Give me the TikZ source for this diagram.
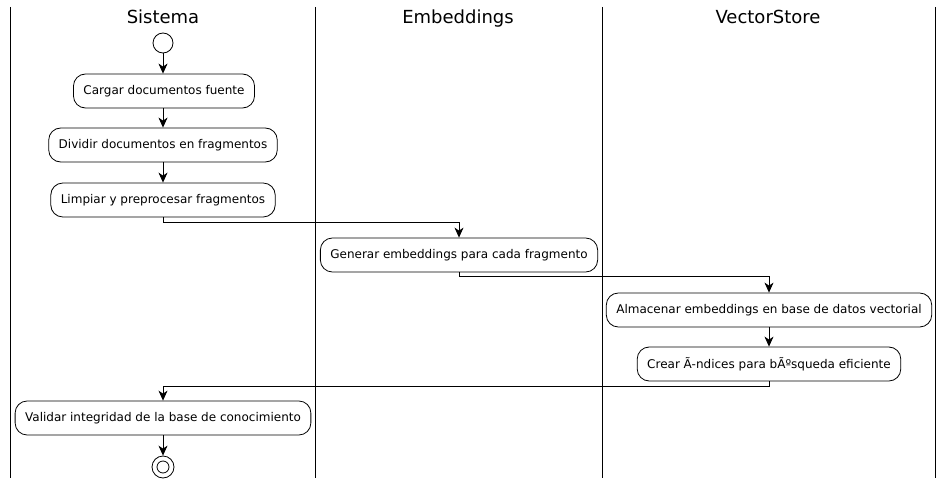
\documentclass[tikz,border=0pt]{standalone}
\usepackage{fontspec}
\setmainfont{DejaVu Sans}
\usetikzlibrary{arrows.meta}

\begin{document}
\begin{tikzpicture}[x=1pt, y=-1pt,
    act/.style={draw, thick, rounded corners=12pt, minimum height=34pt,
                inner xsep=10pt, font=\fontsize{12}{14}\selectfont},
    lanetitle/.style={font=\fontsize{18}{20}\selectfont, text height=13pt, text depth=4pt},
    arr/.style={thick, -{Stealth[length=10pt, width=9pt, inset=3pt]}},
    lane/.style={thick}]

    % Fix the canvas
    \useasboundingbox (0,0) rectangle (949,484);

    % Draw the swimlane borders
    \draw[lane] (10,7) -- (10,478);
    \draw[lane] (315,7) -- (315,478);
    \draw[lane] (602,7) -- (602,478);
    \draw[lane] (935,7) -- (935,478);

    % Add the lane titles
    \node[lanetitle] (tsis) at (163,19) {Sistema};
    \node[lanetitle] (temb) at (458,19) {Embeddings};
    \node[lanetitle] (tvec) at (768,19) {VectorStore};

    % Start and stop
    \node[draw, thick, circle, minimum size=20pt, inner sep=0pt] (start) at (163,43) {};
    \node[draw, thick, circle, minimum size=22pt, inner sep=0pt] (stop) at (163,467) {};
    \node[draw, thick, circle, minimum size=12pt, inner sep=0pt] (stopin) at (163,467) {};

    % Activities
    \node[act] (cargar) at (164,91) {Cargar documentos fuente};
    \node[act] (dividir) at (163,145) {Dividir documentos en fragmentos};
    \node[act] (limpiar) at (163,200) {Limpiar y preprocesar fragmentos};
    \node[act] (generar) at (459,255) {Generar embeddings para cada fragmento};
    \node[act] (almacenar) at (769,310) {Almacenar embeddings en base de datos vectorial};
    \node[act] (indices) at (769,364) {Crear Ã-ndices para bÃºsqueda eficiente};
    \node[act] (validar) at (163,418) {Validar integridad de la base de conocimiento};

    % Connectors
    \draw[arr] (start) -- (start |- cargar.north);
    \draw[arr] (cargar.south -| dividir) -- (dividir.north);
    \draw[arr] (dividir) -- (limpiar);
    \draw[arr] (limpiar.south) -- ++(0,5) -| (generar.north);
    \draw[arr] (generar.south) -- ++(0,4) -| (almacenar.north);
    \draw[arr] (almacenar) -- (indices);
    \draw[arr] (indices.south) -- ++(0,5) -| (validar.north);
    \draw[arr] (validar) -- (stop);

\end{tikzpicture}
\end{document}
